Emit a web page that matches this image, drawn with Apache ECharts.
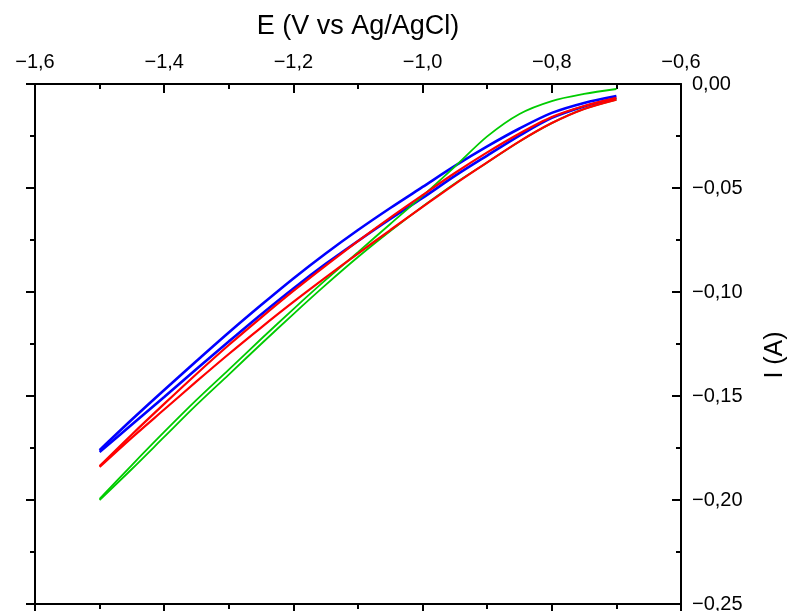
<!DOCTYPE html>
<html><head><meta charset="utf-8">
<script src="https://cdn.jsdelivr.net/npm/echarts@6/dist/echarts.min.js"></script>
<style>html,body{margin:0;padding:0;background:#fff}#c{width:788px;height:611px}</style>
</head><body><div id="c"></div>
<script>
// Potential sweep points (V vs Ag/AgCl)
const E_SWEEP = [-0.70,-0.75,-0.80,-0.85,-0.90,-0.95,-1.00,-1.05,-1.10,-1.15,-1.20,-1.25,-1.30,-1.35,-1.40,-1.45,-1.50];
// Currents (A) at E_SWEEP, forward (cathodic) and reverse branches
const BLUE_FWD  = [-0.0058,-0.0091,-0.0139,-0.0214,-0.0300,-0.0394,-0.0495,-0.0596,-0.0702,-0.0815,-0.0935,-0.1063,-0.1195,-0.1332,-0.1471,-0.1613,-0.1760];
const BLUE_REV  = [-0.0067,-0.0108,-0.0163,-0.0248,-0.0344,-0.0442,-0.0548,-0.0649,-0.0755,-0.0865,-0.0983,-0.1108,-0.1238,-0.1370,-0.1505,-0.1637,-0.1769];
const RED_FWD   = [-0.0067,-0.0106,-0.0159,-0.0238,-0.0329,-0.0428,-0.0534,-0.0642,-0.0755,-0.0873,-0.0995,-0.1123,-0.1255,-0.1394,-0.1538,-0.1685,-0.1837];
const RED_REV   = [-0.0075,-0.0120,-0.0188,-0.0276,-0.0377,-0.0481,-0.0591,-0.0702,-0.0815,-0.0930,-0.1048,-0.1171,-0.1298,-0.1430,-0.1565,-0.1700,-0.1841];
const GREEN_FWD = [-0.0024,-0.0048,-0.0082,-0.0144,-0.0252,-0.0397,-0.0538,-0.0673,-0.0808,-0.0942,-0.1082,-0.1226,-0.1373,-0.1519,-0.1673,-0.1832,-0.1995];
const GREEN_REV = [-0.0075,-0.0120,-0.0188,-0.0276,-0.0377,-0.0478,-0.0589,-0.0707,-0.0832,-0.0966,-0.1106,-0.1250,-0.1397,-0.1543,-0.1697,-0.1851,-0.2000];

const X_NAME = 'E (V vs Ag/AgCl)';
const Y_NAME = 'I (A)';

function pairs(vals) {
  return E_SWEEP.map((e, i) => [e, vals[i]]);
}
function fmt(v, n) {
  const s = Math.abs(v).toFixed(n).replace('.', ',');
  return (v < -1e-9 ? '\u2212' : '') + s;
}
const FONT = 'Liberation Sans, Arial, Helvetica, sans-serif';
const tickStyle = { color: '#000', width: 2 };

function xAxis(top) {
  return {
    type: 'value', position: top ? 'top' : 'bottom',
    min: -1.6, max: -0.6, interval: 0.2,
    name: top ? X_NAME : '', nameLocation: 'middle', nameGap: 44,
    nameTextStyle: { fontFamily: FONT, fontSize: 27, color: '#000' },
    axisLine: { show: true, onZero: false, lineStyle: { color: '#000', width: 2 } },
    axisTick: { show: true, inside: top, length: 9, lineStyle: tickStyle },
    minorTick: { show: true, splitNumber: 2, length: 5, lineStyle: tickStyle },
    axisLabel: { show: top, margin: 12, fontFamily: FONT, fontSize: 20, color: '#000',
      showMinLabel: true, showMaxLabel: true, formatter: v => fmt(v, 1) },
    splitLine: { show: false }
  };
}
function yAxis(right) {
  return {
    type: 'value', position: right ? 'right' : 'left',
    min: -0.25, max: 0, interval: 0.05,
    name: right ? Y_NAME : '', nameLocation: 'middle', nameGap: 82, nameRotate: 90,
    nameTextStyle: { fontFamily: FONT, fontSize: 25, color: '#000', padding: [0, 22, 0, 0] },
    axisLine: { show: true, onZero: false, lineStyle: { color: '#000', width: 2 } },
    axisTick: { show: true, inside: right, length: 9, lineStyle: tickStyle },
    minorTick: { show: true, splitNumber: 2, length: 5, lineStyle: tickStyle },
    axisLabel: { show: right, margin: 11, fontFamily: FONT, fontSize: 20, color: '#000',
      showMinLabel: true, showMaxLabel: true, formatter: v => fmt(v, 2) },
    splitLine: { show: false }
  };
}
function series(name, color, width, vals) {
  return { name, type: 'line', xAxisIndex: 0, yAxisIndex: 0, data: pairs(vals),
    smooth: 0.3, showSymbol: false, symbol: 'none', animation: false,
    lineStyle: { color, width } };
}

const chart = echarts.init(document.getElementById('c'));
chart.setOption({
  backgroundColor: '#fff',
  animation: false,
  grid: { left: 35, right: 107, top: 84, bottom: 7, containLabel: false, outerBoundsMode: 'none' },
  xAxis: [xAxis(true), xAxis(false)],
  yAxis: [yAxis(true), yAxis(false)],
  series: [
    series('blue fwd', '#0000ff', 2.6, BLUE_FWD),
    series('blue rev', '#0000ff', 2.6, BLUE_REV),
    series('green fwd', '#00cc00', 1.8, GREEN_FWD),
    series('green rev', '#00cc00', 1.8, GREEN_REV),
    series('red fwd', '#ff0000', 2.2, RED_FWD),
    series('red rev', '#ff0000', 2.2, RED_REV)
  ]
});
</script></body></html>
